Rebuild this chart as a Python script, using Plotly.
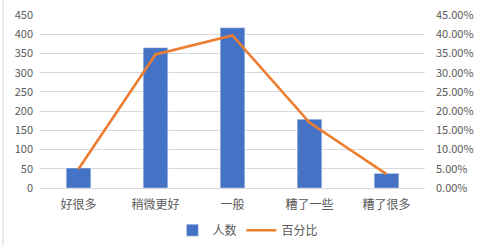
import plotly.graph_objects as go

categories = ["好很多", "稍微更好", "一般", "糟了一些", "糟了很多"]
counts = [52, 365, 417, 179, 38]
percents = [0.0495, 0.3473, 0.3968, 0.1703, 0.0362]
left_ticks = [0, 50, 100, 150, 200, 250, 300, 350, 400, 450]
right_ticks = [0, 0.05, 0.10, 0.15, 0.20, 0.25, 0.30, 0.35, 0.40, 0.45]

font_family = "Noto Sans CJK SC, Noto Sans, sans-serif"
grey = "#595959"

fig = go.Figure()
fig.add_trace(go.Bar(x=categories, y=counts, name="人数", marker=dict(color="#4472C4"),
                     width=0.32, yaxis="y"))
fig.add_trace(go.Scatter(x=categories, y=percents, name="百分比", mode="lines",
                         line=dict(color="#ED7D31", width=2.6), yaxis="y2"))

fig.update_layout(
    width=478, height=246,
    margin=dict(l=40, r=53, t=15, b=58, autoexpand=False),
    paper_bgcolor="white", plot_bgcolor="white",
    font=dict(family=font_family, size=11, color=grey),
    showlegend=True,
    legend=dict(orientation="h", x=0.54, xanchor="center", y=-0.16, yanchor="top",
                font=dict(size=12, color=grey), itemwidth=30, traceorder="normal"),
    xaxis=dict(showgrid=False, linecolor="#D9D9D9", showline=True, ticks="",
               ticklabelstandoff=6, tickfont=dict(size=12, color=grey)),
    yaxis=dict(range=[0, 450], tickvals=left_ticks, showgrid=True, gridcolor="#D9D9D9",
               gridwidth=1, zeroline=False, ticks="", showline=False, ticklabelstandoff=6,
               tickfont=dict(size=11, color=grey)),
    yaxis2=dict(range=[0, 0.45], tickvals=right_ticks, tickformat=".2%", overlaying="y",
                side="right", showgrid=False, zeroline=False, ticks="", showline=False,
                ticklabelstandoff=10, tickfont=dict(size=11, color=grey)),
    shapes=[dict(type="line", xref="paper", yref="paper", x0=-0.096, x1=-0.096,
                 y0=-0.335, y1=1.087, line=dict(color="#D9D9D9", width=1))],
)

fig.write_html("out.html")
